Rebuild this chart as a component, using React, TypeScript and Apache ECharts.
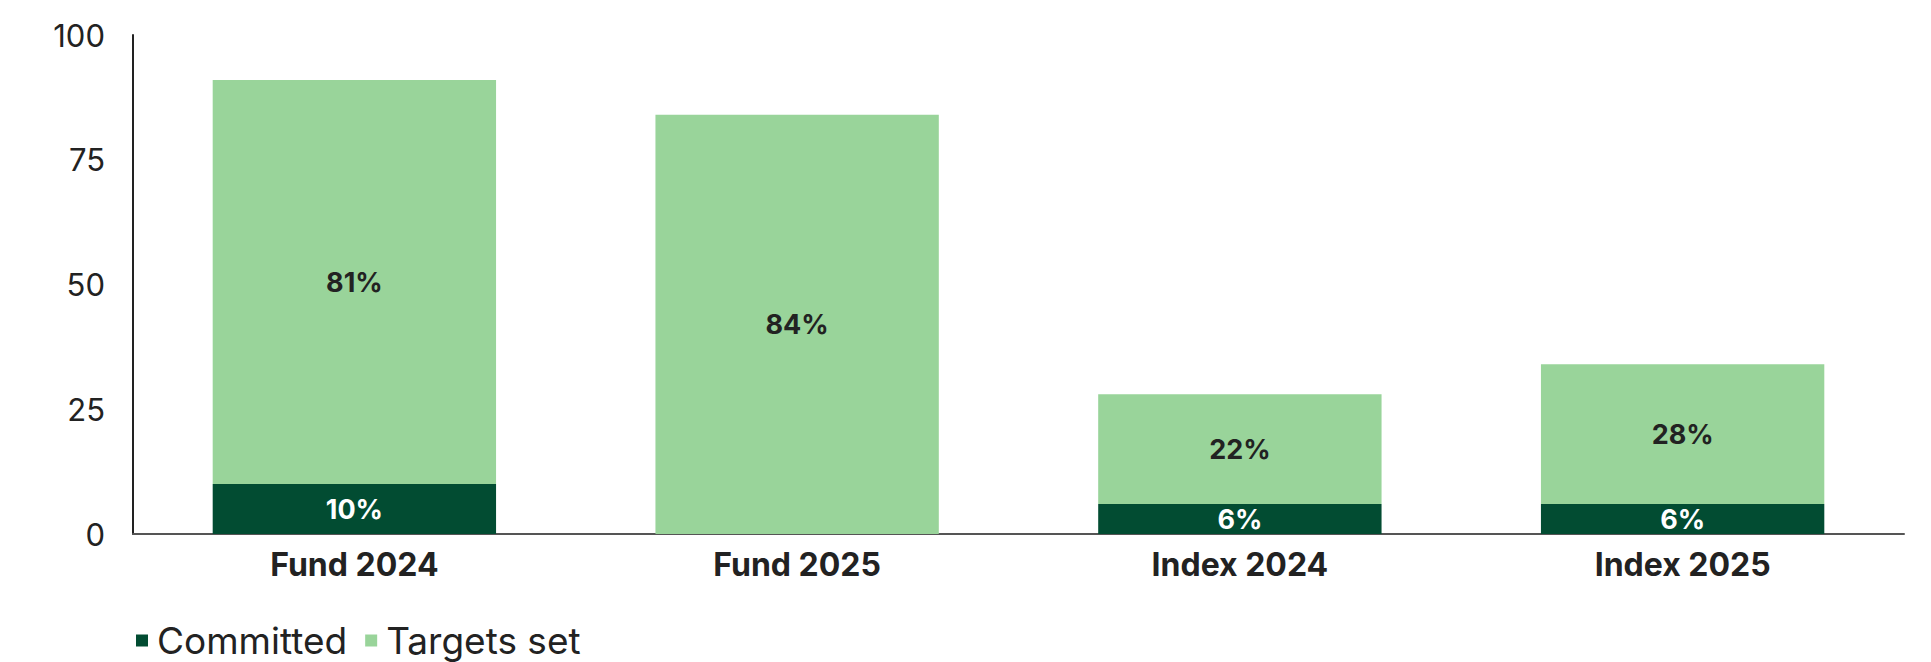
import React, { useEffect, useRef } from "react";
import * as echarts from "echarts";

const categories = ["Fund 2024", "Fund 2025", "Index 2024", "Index 2025"];
const committed = [10, 0, 6, 6];
const targetsSet = [81, 84, 22, 28];
const yTicks = [0, 25, 50, 75, 100];

const DARK = "#024c32";
const LIGHT = "#99d49a";
const FONT = "Inter, 'Noto Sans', sans-serif";

export default function App() {
  const ref = useRef<HTMLDivElement>(null);
  useEffect(() => {
    if (!ref.current) return;
    const chart = echarts.init(ref.current, undefined, { renderer: "svg" });
    chart.setOption({
      animation: false,
      textStyle: { fontFamily: FONT },
      grid: { left: 133, right: 27, top: 35, bottom: 128, containLabel: false },
      legend: {
        left: 131,
        top: 617,
        itemWidth: 12,
        itemHeight: 12,
        itemGap: 18,
        icon: "rect",
        data: ["Committed", "Targets set"],
        textStyle: { fontSize: 37, color: "#222", fontFamily: FONT, padding: [0, 0, 0, 4] },
      },
      xAxis: {
        type: "category",
        data: categories,
        axisLine: { show: true, lineStyle: { color: "#555", width: 2 } },
        axisTick: { show: false },
        axisLabel: { fontSize: 32, fontWeight: "bold", color: "#222", margin: 14, fontFamily: FONT },
      },
      yAxis: {
        type: "value",
        min: yTicks[0],
        max: yTicks[yTicks.length - 1],
        interval: 25,
        axisLine: { show: true, lineStyle: { color: "#222", width: 2 } },
        axisTick: { show: false },
        splitLine: { show: false },
        axisLabel: { fontSize: 31, color: "#222", margin: 28, fontFamily: FONT },
      },
      series: [
        {
          name: "Committed",
          type: "bar",
          stack: "total",
          data: committed,
          barWidth: "64%",
          itemStyle: { color: DARK },
          label: {
            show: true,
            position: "inside",
            formatter: (p: any) => (p.value ? p.value + "%" : ""),
            color: "#fff",
            fontSize: 27,
            fontWeight: "bold",
            fontFamily: FONT,
          },
        },
        {
          name: "Targets set",
          type: "bar",
          stack: "total",
          data: targetsSet,
          barWidth: "64%",
          itemStyle: { color: LIGHT },
          label: {
            show: true,
            position: "inside",
            formatter: (p: any) => (p.value ? p.value + "%" : ""),
            color: "#222",
            fontSize: 27,
            fontWeight: "bold",
            fontFamily: FONT,
          },
        },
      ],
    });
    return () => chart.dispose();
  }, []);
  return (
    <div
      ref={ref}
      style={{ position: "absolute", left: 0, top: 0, width: 1931, height: 662, background: "#fff" }}
    />
  );
}
